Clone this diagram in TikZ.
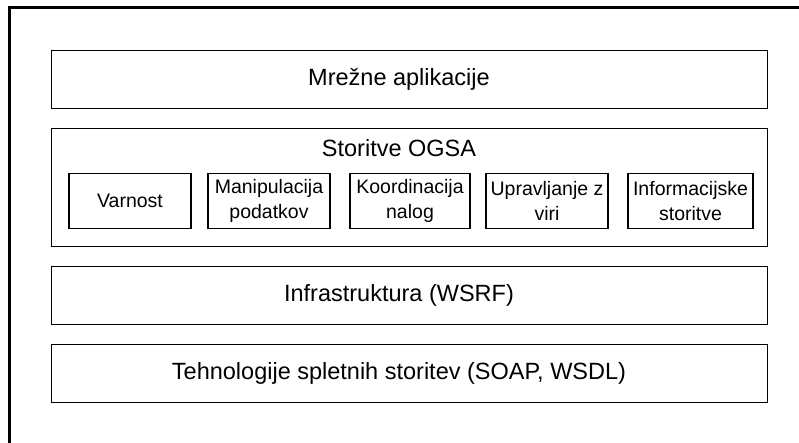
\documentclass[tikz,border=0pt]{standalone}
\usepackage{fontspec}
\setmainfont{Liberation Sans}
\usetikzlibrary{positioning}

\begin{document}
\begin{tikzpicture}[x=1pt,y=-1pt,
    layer/.style={draw, line width=1.4pt, minimum width=716pt, minimum height=58pt, inner sep=0pt},
    layertext/.style={xshift=-10.5pt, font=\fontsize{23.5}{27}\selectfont},
    service/.style={draw, line width=1.2pt, minimum width=122pt, minimum height=55pt, inner sep=0pt, align=center, font=\fontsize{19.5}{25}\selectfont}]
    \useasboundingbox (0,0) rectangle (799,443);
    % frame, only left and top edge are visible
    \coordinate (frameBL) at (9,443);
    \coordinate (frameTL) at (9,8);
    \coordinate (frameTR) at (799,8);
    \draw[line width=3pt] (frameBL) -- (frameTL) -- (frameTR);
    % layers
    \node[layer, label={[layertext]center:Mrežne aplikacije}] (apps) at (409.5,79.5) {};
    \node[layer, minimum height=118pt] (ogsa) at (409.5,187.5) {};
    \node[layertext] (ogsaTitle) at (409.5,148) {Storitve OGSA};
    \node[layer, label={[layertext]center:Infrastruktura (WSRF)}] (wsrf) at (409.5,295.5) {};
    \node[layer, label={[layertext]center:Tehnologije spletnih storitev (SOAP, WSDL)}] (tech) at (409.5,373.5) {};
    % services inside OGSA
    \node[service] (security) at (130,201) {Varnost};
    \node[service] (data) at (269,201) {Manipulacija\\podatkov};
    \node[service, minimum width=120pt] (jobs) at (410,201) {Koordinacija\\nalog};
    \node[service] (resources) at (547,201) {Upravljanje z\\viri};
    \node[service, minimum width=125pt] (info) at (690.5,201) {Informacijske\\storitve};
\end{tikzpicture}
\end{document}
